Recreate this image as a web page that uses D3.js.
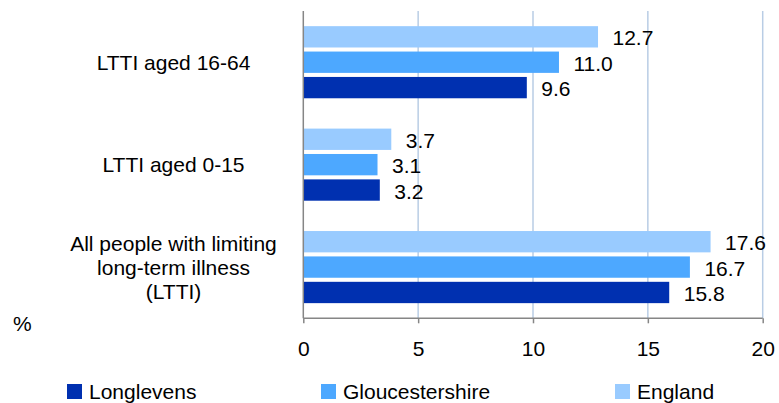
<!DOCTYPE html>
<html>
<head>
<meta charset="utf-8">
<script src="https://cdn.jsdelivr.net/npm/d3@7"></script>
<style>
  html, body { margin: 0; padding: 0; background: #fff; }
  svg { display: block; }
  text { font-family: "Liberation Sans", Arial, sans-serif; fill: #000; }
</style>
</head>
<body>
<svg id="chart" width="779" height="403"></svg>
<script>
// ---- data ----
const categories = ["LTTI aged 16-64", "LTTI aged 0-15", "All people with limiting|long-term illness|(LTTI)"];
const seriesNames = ["England", "Gloucestershire", "Longlevens"];
const england = [12.7, 3.7, 17.6];
const gloucestershire = [11.0, 3.1, 16.7];
const longlevens = [9.6, 3.2, 15.8];
const xTicks = [0, 5, 10, 15, 20];
const legendOrder = ["Longlevens", "Gloucestershire", "England"];

(function () {
// ---- styles ----
const colors = { "Longlevens": "#0030b0", "Gloucestershire": "#4da8ff", "England": "#99cbff" };
const seriesValues = { "England": england, "Gloucestershire": gloucestershire, "Longlevens": longlevens };
const fs = 21;

const svg = d3.select("#chart");
const pLeft = 303.3, pRight = 762.7, pTop = 11, pBottom = 318.3;

const x = d3.scaleLinear().domain([0, 20]).range([pLeft, pRight]);
const y0 = d3.scaleBand().domain(categories).range([pTop, pBottom]).paddingInner(0.296).paddingOuter(0.148);
const y1 = d3.scaleBand().domain(seriesNames).range([0, y0.bandwidth()]).paddingInner(0.16).paddingOuter(0);

// gridlines
svg.append("g").selectAll("line").data(xTicks.filter(d => d > 0)).join("line")
  .attr("x1", d => x(d)).attr("x2", d => x(d))
  .attr("y1", pTop).attr("y2", pBottom)
  .attr("stroke", "#b9cde5").attr("stroke-width", 1.5);

// bars
const rows = [];
categories.forEach((c, i) => {
  seriesNames.forEach(s => rows.push({ cat: c, series: s, value: seriesValues[s][i] }));
});

svg.append("g").selectAll("rect").data(rows).join("rect")
  .attr("x", x(0) + 0.7)
  .attr("y", d => y0(d.cat) + y1(d.series))
  .attr("width", d => x(d.value) - x(0) + 2.3)
  .attr("height", y1.bandwidth())
  .attr("fill", d => colors[d.series]);

// value labels
svg.append("g").selectAll("text").data(rows).join("text")
  .attr("x", d => x(d.value) + 17.5)
  .attr("y", d => y0(d.cat) + y1(d.series) + y1.bandwidth() / 2 + 8.5)
  .attr("font-size", fs)
  .text(d => d.value.toFixed(1));

// axes
const axisColor = "#868686";
svg.append("line").attr("x1", pLeft).attr("x2", pLeft).attr("y1", pTop).attr("y2", pBottom)
  .attr("stroke", axisColor).attr("stroke-width", 1.5);
svg.append("line").attr("x1", pLeft).attr("x2", pRight).attr("y1", pBottom).attr("y2", pBottom)
  .attr("stroke", axisColor).attr("stroke-width", 1.5);

const xAxis = d3.axisBottom(x).tickValues(xTicks).tickSize(5).tickPadding(17.5).tickFormat(d3.format("d"));
const gx = svg.append("g").attr("transform", `translate(0,${pBottom})`).call(xAxis);
gx.select(".domain").remove();
gx.selectAll(".tick line").attr("stroke", axisColor).attr("stroke-width", 1.5);
gx.selectAll(".tick text").attr("font-size", fs).attr("font-family", "Liberation Sans, Arial, sans-serif").attr("fill", "#000");

// category labels
categories.forEach(c => {
  const lines = c.split("|");
  const cy = y0(c) + y0.bandwidth() / 2;
  const lh = 24;
  const t = svg.append("text").attr("text-anchor", "middle").attr("font-size", fs);
  lines.forEach((ln, i) => {
    t.append("tspan").attr("x", 173.5)
      .attr("y", cy + 7.5 + (i - (lines.length - 1) / 2) * lh)
      .text(ln);
  });
});

// % label
svg.append("text").attr("x", 13).attr("y", 330.5).attr("font-size", fs).text("%");

// legend
const legendX = [67, 321, 615];
const lg = svg.append("g").selectAll("g").data(legendOrder).join("g")
  .attr("transform", (d, i) => `translate(${legendX[i]},384)`);
lg.append("rect").attr("width", 15).attr("height", 15).attr("fill", d => colors[d]);
lg.append("text").attr("x", 22).attr("y", 14.5).attr("font-size", fs).text(d => d);
})();
</script>
</body>
</html>
